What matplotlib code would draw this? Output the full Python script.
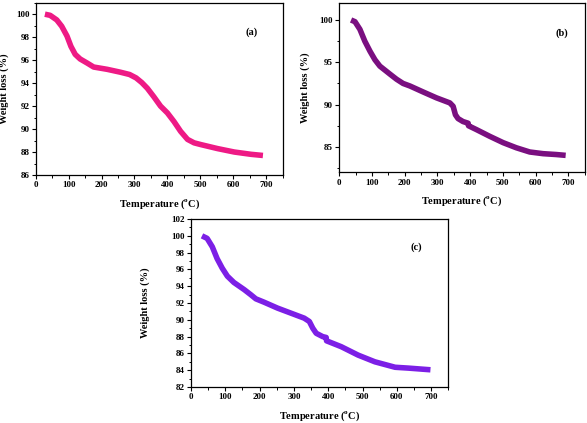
import matplotlib
matplotlib.use('Agg')
import matplotlib.pyplot as plt
from matplotlib.ticker import MultipleLocator

plt.rcParams['font.family'] = 'Liberation Serif'
plt.rcParams['font.weight'] = 'bold'
plt.rcParams['mathtext.fontset'] = 'custom'
plt.rcParams['mathtext.rm'] = 'Liberation Serif:bold'
plt.rcParams['mathtext.bf'] = 'Liberation Serif:bold'

# TGA data, panel (a)
temp_a = [28, 44, 64, 79, 95, 107, 120, 135, 156, 176, 217, 257, 285, 305, 322, 339,
          359, 379, 400, 420, 440, 461, 481, 501, 552, 603, 654, 690]
wt_a = [100.0, 99.9, 99.5, 98.95, 98.1, 97.2, 96.5, 96.1, 95.75, 95.4, 95.2, 94.95,
        94.75, 94.45, 94.05, 93.55, 92.8, 92.0, 91.4, 90.65, 89.8, 89.1, 88.8, 88.65,
        88.3, 88.0, 87.8, 87.7]

# panel (b)
temp_b = [36, 48, 63, 78, 94, 109, 124, 155, 175, 195, 216, 256, 297, 338, 348,
          355, 363, 378, 394, 395, 419, 460, 501, 541, 582, 623, 663, 692]
wt_b = [100.0, 99.8, 98.9, 97.5, 96.3, 95.3, 94.55, 93.6, 93.0, 92.5, 92.2, 91.5,
        90.8, 90.2, 89.8, 88.8, 88.35, 88.0, 87.8, 87.5, 87.05, 86.25, 85.5, 84.9,
        84.4, 84.2, 84.1, 84.0]

# panel (c)
temp_c = [32, 47, 62, 76, 91, 106, 125, 155, 174, 189, 213, 252, 291, 330, 345,
          355, 365, 384, 394, 395, 438, 487, 536, 595, 634, 698]
wt_c = [100.0, 99.7, 98.7, 97.3, 96.15, 95.2, 94.45, 93.6, 93.0, 92.5, 92.1, 91.4,
        90.8, 90.2, 89.8, 89.0, 88.4, 88.0, 87.9, 87.5, 86.8, 85.8, 85.0, 84.35,
        84.25, 84.05]

fig = plt.figure(figsize=(5.87, 4.23), dpi=100)
fig.patch.set_facecolor('white')

panels = [
    # rect, x, y, color, ylim, ymajor, yminor, tag, tag position, ylabel x (axes frac)
    ([0.0608, 0.5863, 0.4208, 0.4073], temp_a, wt_a, '#EE1A85', (86, 101), 2, 1, '(a)', (657, 98.4), -0.11),
    ([0.578, 0.5927, 0.418, 0.400], temp_b, wt_b, '#7A0F80', (82, 102), 5, 2.5, '(b)', (680, 98.4), -0.12),
    ([0.3254, 0.0851, 0.4383, 0.397], temp_c, wt_c, '#7C1FE6', (82, 102), 2, 1, '(c)', (656, 98.65), -0.16),
]

for rect, x, y, color, ylim, ymaj, ymin, tag, tagpos, ylx in panels:
    ax = fig.add_axes(rect)
    ax.plot(x, y, color=color, lw=4, solid_capstyle='butt', solid_joinstyle='round')
    ax.set_xlim(0, 750)
    ax.set_ylim(*ylim)
    ax.xaxis.set_major_locator(MultipleLocator(100))
    ax.xaxis.set_minor_locator(MultipleLocator(50))
    ax.yaxis.set_major_locator(MultipleLocator(ymaj))
    ax.yaxis.set_minor_locator(MultipleLocator(ymin))
    ax.set_xticks(range(0, 701, 100))
    ax.tick_params(which='major', direction='out', length=3, width=0.8, labelsize=6.5, pad=1.5)
    ax.tick_params(which='minor', direction='out', length=1.8, width=0.7)
    for lab in ax.get_xticklabels() + ax.get_yticklabels():
        lab.set_fontweight('bold')
    for s in ax.spines.values():
        s.set_linewidth(0.9)
    ax.set_xlabel(r'Temperature ($^{\mathrm{o}}$C)', fontsize=7.5, fontweight='bold', labelpad=6)
    ax.set_ylabel('Weight loss (%)', fontsize=7.5, fontweight='bold')
    ax.yaxis.set_label_coords(ylx, 0.5)
    ax.text(tagpos[0], tagpos[1], tag, fontsize=7.5, fontweight='bold', ha='center', va='center')

fig.savefig('out.png', dpi=100, facecolor='white')
